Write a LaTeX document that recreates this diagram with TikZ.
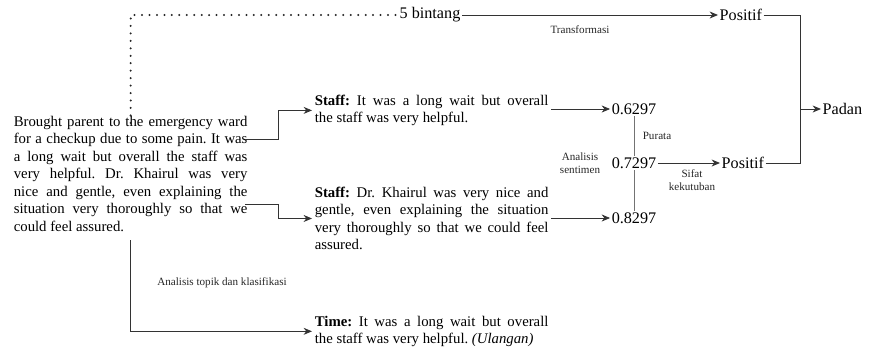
\documentclass[tikz,border=0pt]{standalone}
\usepackage{fontspec}
\setmainfont{Liberation Serif}
\usetikzlibrary{arrows.meta,positioning}

\begin{document}
\frenchspacing
\begin{tikzpicture}[x=0.025cm,y=-0.025cm,
  para/.style={align=justify,text width=5.84cm,inner sep=0pt,outer sep=2pt,
    font=\fontsize{10.5}{12.5}\selectfont},
  val/.style={inner sep=1pt,font=\fontsize{11.5}{13}\selectfont},
  lbl/.style={inner sep=0pt,align=center,text=black!85,font=\fontsize{7.9}{9.5}\selectfont},
  conn/.style={draw=black!80,line width=0.6pt},
  arr/.style={conn,-{Stealth[length=6pt,width=5pt]}},
  dots/.style={draw=black!85,line width=1.6pt,line cap=round,dash pattern=on 0pt off 5.3pt}]
\useasboundingbox (0,0) rectangle (872,349);

% review text and its pieces
\node[para,anchor=north west] (review) at (11,113) {Brought parent to the emergency ward\linebreak
for a checkup due to some pain. It was\linebreak
a long wait but overall the staff was\linebreak
very helpful. Dr. Khairul was very\linebreak
nice and gentle, even explaining the\linebreak
situation very thoroughly so that we\linebreak
could feel assured.};
\node[para,anchor=north west] (staffa) at (312,92) {\textbf{Staff:} It was a long wait but overall\linebreak
the staff was very helpful.};
\node[para,anchor=north west] (staffb) at (312,184) {\textbf{Staff:} Dr. Khairul was very nice and\linebreak
gentle, even explaining the situation\linebreak
very thoroughly so that we could feel\linebreak
assured.};
\node[para,anchor=north west] (time) at (312,313) {\textbf{Time:} It was a long wait but overall\linebreak
the staff was very helpful. \textit{(Ulangan)}};

% values
\node[val,anchor=west] (bintang) at (398,15) {5 bintang};
\node[val,anchor=west] (posa) at (718,15) {Positif};
\node[val] (vala) at (634,109) {0.6297};
\node[val] (valb) at (634,163) {0.7297};
\node[val] (valc) at (634,218) {0.8297};
\node[val,anchor=west] (posb) at (720,163) {Positif};
\node[val,anchor=west] (padan) at (821,109) {Padan};

% small labels
\node[lbl] (transf) at (580,30) {Transformasi};
\node[lbl] (purata) at (657,136) {Purata};
\node[lbl] (sentimen) at (580,163) {Analisis\\sentimen};
\node[lbl] (kutub) at (692,180) {Sifat\\kekutuban};
\node[lbl] (topik) at (222,283) {Analisis topik dan klasifikasi};

% connectors
\coordinate (outa) at (245,139);
\coordinate (outb) at (245,204);
\coordinate (join) at (800,109);
\draw[dots] ([yshift=-7pt]review.north) |- (bintang.west);
\draw[arr] (bintang) -- (posa);
\draw[arr] (outa) -- ++(33,0) |- (staffa.west);
\draw[arr] (outb) -- ++(33,0) |- (staffb.west);
\draw[arr] ([yshift=-4pt]review.south) |- (time.west);
\draw[arr] (staffa.east |- vala) -- (vala);
\draw[arr] (staffb.east |- valc) -- (valc);
\draw[conn,draw=black!55] (vala) -- (valb);
\draw[conn,draw=black!55] (valb) -- (valc);
\draw[arr] (valb) -- (posb);
\draw[conn] (posa) -| (join);
\draw[conn] (posb) -| (join);
\draw[arr] (join) -- (padan);
\end{tikzpicture}
\end{document}
